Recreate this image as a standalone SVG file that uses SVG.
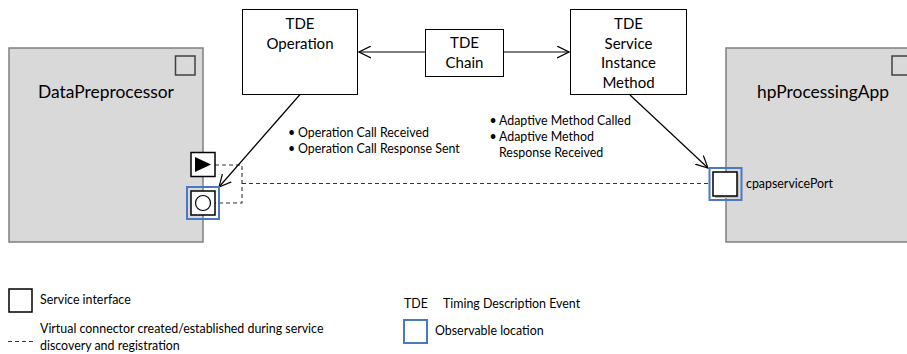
<svg xmlns="http://www.w3.org/2000/svg" width="907" height="354" viewBox="0 0 907 354">
<style>
text { font-family: Lato, "Open Sans", "Liberation Sans", sans-serif; fill: #000; }
.big { font-size: 17.4px; text-anchor: middle; }
.tde { font-size: 15px; text-anchor: middle; }
.sm { font-size: 12.4px; }
.comp { fill: #d9d9d9; stroke: #7f7f7f; stroke-width: 1.5; }
.icon { fill: none; stroke: #404040; stroke-width: 1.5; }
.box { fill: #fff; stroke: #000; stroke-width: 1; }
.port { fill: #fff; stroke: #000; stroke-width: 1.5; }
.obs { fill: none; stroke: #4a78c6; stroke-width: 2; }
.dash { fill: none; stroke: #333; stroke-width: 1.1; stroke-dasharray: 4 3; }
.arr { fill: none; stroke: #000; stroke-width: 1.2; marker-end: url(#open); }
</style>
<defs>
<marker id="open" viewBox="0 0 13 13" refX="12" refY="6.5" markerWidth="13" markerHeight="13" markerUnits="userSpaceOnUse" orient="auto">
<path d="M0,0.5 L12,6.5 L0,12.5" fill="none" stroke="#000" stroke-width="1.2"/>
</marker>
</defs>

<g id="DataPreprocessor">
<rect class="comp" x="9" y="48" width="194" height="194"/>
<rect class="icon" x="175.5" y="56" width="19.5" height="19"/>
<text class="big" x="106" y="98">DataPreprocessor</text>
</g>

<g id="hpProcessingApp">
<rect class="comp" x="726" y="48" width="194" height="194"/>
<rect class="icon" x="892" y="56" width="19.5" height="19"/>
<text class="big" x="823" y="98">hpProcessingApp</text>
</g>

<g id="connectors">
<polyline class="dash" points="215,165 242,165 242,203 215,203"/>
<line class="dash" x1="242" y1="183.5" x2="710" y2="183.5"/>
<line class="arr" x1="425" y1="52" x2="359" y2="52"/>
<line class="arr" x1="503" y1="52" x2="569" y2="52"/>
<line class="arr" x1="300" y1="94.5" x2="219" y2="187"/>
<line class="arr" x1="630" y1="95" x2="708" y2="168"/>
</g>

<g id="port-provide">
<rect class="port" x="191" y="152.5" width="24" height="24"/>
<path d="M195,157 L211,164.5 L195,172 Z" fill="#000"/>
</g>

<g id="port-require">
<rect class="port" x="191" y="191" width="24" height="24"/>
<circle cx="203" cy="203" r="7.5" fill="#fff" stroke="#000" stroke-width="1.2"/>
<rect class="obs" x="187" y="187" width="32" height="32"/>
</g>

<g id="cpapservicePort">
<rect x="715" y="174" width="24" height="24" fill="#bfbfbf"/>
<rect class="port" x="713" y="172" width="24" height="24"/>
<rect class="obs" x="709.5" y="168" width="32" height="32"/>
<text class="sm" x="746" y="188">cpapservicePort</text>
</g>

<g id="TDE-Operation">
<rect class="box" x="242.5" y="9.5" width="115" height="85"/>
<text class="tde" x="300" y="29">TDE</text>
<text class="tde" x="300" y="49">Operation</text>
</g>

<g id="TDE-Chain">
<rect class="box" x="425.5" y="29.5" width="78" height="47"/>
<text class="tde" x="464.5" y="48">TDE</text>
<text class="tde" x="464.5" y="68">Chain</text>
</g>

<g id="TDE-ServiceInstanceMethod">
<rect class="box" x="570.5" y="9.5" width="116" height="85"/>
<text class="tde" x="628.5" y="29">TDE</text>
<text class="tde" x="628.5" y="48.5">Service</text>
<text class="tde" x="628.5" y="68">Instance</text>
<text class="tde" x="628.5" y="87.5">Method</text>
</g>

<g id="op-events">
<text class="sm" x="288" y="137">•</text>
<text class="sm" x="298" y="137">Operation Call Received</text>
<text class="sm" x="288" y="153">•</text>
<text class="sm" x="298" y="153">Operation Call Response Sent</text>
</g>

<g id="method-events">
<text class="sm" x="489.5" y="124.5">•</text>
<text class="sm" x="499" y="124.5">Adaptive Method Called</text>
<text class="sm" x="489.5" y="140.5">•</text>
<text class="sm" x="499" y="140.5">Adaptive Method</text>
<text class="sm" x="499" y="156.5">Response Received</text>
</g>

<g id="legend">
<rect class="port" x="9" y="289" width="23" height="23"/>
<text class="sm" x="40" y="304">Service interface</text>
<line class="dash" x1="8" y1="341.5" x2="33" y2="341.5"/>
<text class="sm" x="40" y="333">Virtual connector created/established during service</text>
<text class="sm" x="40" y="350">discovery and registration</text>
<text class="sm" x="404" y="308">TDE</text>
<text class="sm" x="443" y="308">Timing Description Event</text>
<rect class="obs" x="404" y="320" width="23" height="23"/>
<text class="sm" x="435" y="335">Observable location</text>
</g>
</svg>
